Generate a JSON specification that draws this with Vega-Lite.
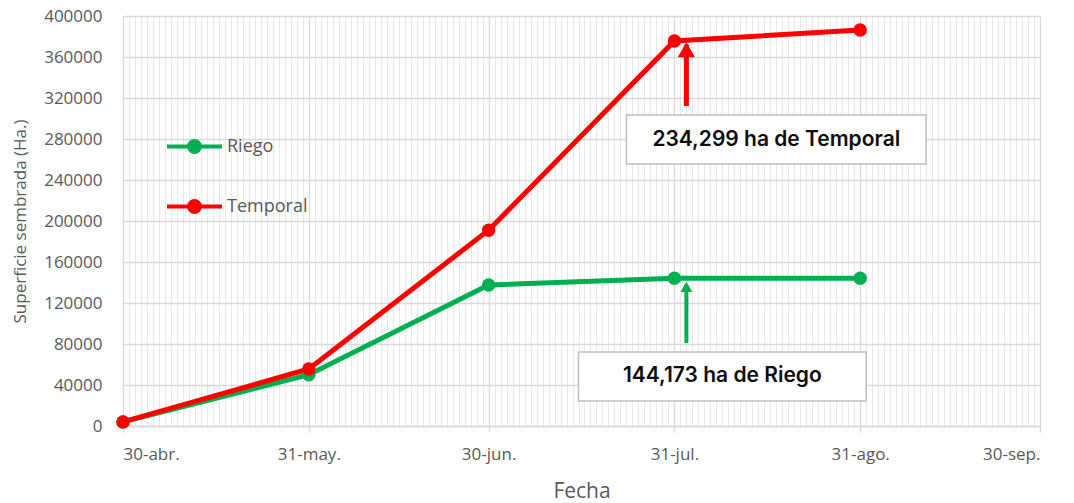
{
  "$schema": "https://vega.github.io/schema/vega-lite/v6.json",
  "autosize": {"type": "none"},
  "width": 917,
  "height": 410,
  "padding": {"left": 123, "top": 16, "right": 34, "bottom": 77},
  "background": "white",
  "config": {
    "view": {"stroke": null},
    "font": "Open Sans"
  },
  "datasets": {
    "series": [
      {"fecha": "2019-04-30", "serie": "Riego", "valor": 4000},
      {"fecha": "2019-05-31", "serie": "Riego", "valor": 50000},
      {"fecha": "2019-06-30", "serie": "Riego", "valor": 137500},
      {"fecha": "2019-07-31", "serie": "Riego", "valor": 144173},
      {"fecha": "2019-08-31", "serie": "Riego", "valor": 144173},
      {"fecha": "2019-04-30", "serie": "Temporal", "valor": 4000},
      {"fecha": "2019-05-31", "serie": "Temporal", "valor": 55600},
      {"fecha": "2019-06-30", "serie": "Temporal", "valor": 191000},
      {"fecha": "2019-07-31", "serie": "Temporal", "valor": 375600},
      {"fecha": "2019-08-31", "serie": "Temporal", "valor": 386300}
    ],
    "notas": [
      {"serie": "Temporal", "texto": "234,299 ha de Temporal", "x1": "2019-07-23", "x2": "2019-09-11", "y1": 303400, "y2": 255600, "tx": "2019-08-17", "ty": 279500, "ax": "2019-08-02", "a0": 312200, "a1": 372000, "ah": 367000},
      {"serie": "Riego", "texto": "144,173 ha de Riego", "x1": "2019-07-15", "x2": "2019-09-01", "y1": 72200, "y2": 24400, "tx": "2019-08-08", "ty": 48300, "ax": "2019-08-02", "a0": 81000, "a1": 138000, "ah": 135800}
    ]
  },
  "layer": [
    {
      "data": {"name": "notas"},
      "mark": {"type": "rect", "fill": "white", "stroke": "#bfbfbf", "strokeWidth": 1.5},
      "encoding": {
        "x": {
          "field": "x1", "type": "temporal",
          "scale": {"type": "utc", "domain": [{"year": 2019, "month": "apr", "date": 30, "utc": true}, {"year": 2019, "month": "sep", "date": 30, "utc": true}]},
          "axis": {"orient": "bottom", "grid": true, "gridColor": "#e8e8e8", "gridWidth": 1, "tickCount": {"interval": "day", "step": 1}, "labels": false, "ticks": false, "domain": false, "title": null}
        },
        "x2": {"field": "x2"},
        "y": {"field": "y1", "type": "quantitative"},
        "y2": {"field": "y2"}
      }
    },
    {
      "data": {"name": "series"},
      "mark": {"type": "line", "strokeWidth": 5, "point": {"size": 180, "filled": true, "opacity": 1}},
      "encoding": {
        "x": {
          "field": "fecha", "type": "temporal",
          "axis": {
            "orient": "bottom",
            "values": [
              {"year": 2019, "month": "apr", "date": 30, "utc": true},
              {"year": 2019, "month": "may", "date": 31, "utc": true},
              {"year": 2019, "month": "jun", "date": 30, "utc": true},
              {"year": 2019, "month": "jul", "date": 31, "utc": true},
              {"year": 2019, "month": "aug", "date": 31, "utc": true},
              {"year": 2019, "month": "sep", "date": 30, "utc": true}
            ],
            "labelExpr": "utcdate(datum.value) + '-' + ['ene.','feb.','mar.','abr.','may.','jun.','jul.','ago.','sep.','oct.','nov.','dic.'][utcmonth(datum.value)]",
            "grid": true, "gridColor": "#d9d9d9", "gridWidth": 1.3,
            "domain": true, "domainColor": "#d9d9d9", "domainWidth": 1.3,
            "ticks": true, "tickColor": "#d9d9d9", "tickSize": 6, "tickWidth": 1.3,
            "labelFont": "Open Sans", "labelFontSize": 17, "labelColor": "#595959", "labelPadding": 14,
            "title": "Fecha", "titleFont": "Open Sans", "titleFontSize": 21, "titleFontWeight": "normal", "titleColor": "#595959", "titlePadding": 18
          }
        },
        "y": {
          "field": "valor", "type": "quantitative",
          "scale": {"domain": [0, 400000], "nice": false},
          "axis": {
            "values": [0, 40000, 80000, 120000, 160000, 200000, 240000, 280000, 320000, 360000, 400000],
            "format": "d",
            "grid": true, "gridColor": "#d9d9d9", "gridWidth": 1.3,
            "domain": false, "ticks": false,
            "labelFont": "Open Sans", "labelFontSize": 17, "labelColor": "#595959", "labelPadding": 21,
            "title": "Superficie sembrada (Ha.)", "titleFont": "Open Sans", "titleFontSize": 17, "titleFontWeight": "normal", "titleColor": "#595959", "titlePadding": 14
          }
        },
        "color": {
          "field": "serie", "type": "nominal",
          "scale": {"domain": ["Riego", "Temporal"], "range": ["#00B050", "#FF0000"]},
          "legend": {
            "orient": "none", "legendX": 42, "legendY": 101, "title": null,
            "symbolType": "M-1,0L1,0M0.2,0A0.2,0.2 0 1,1 -0.2,0A0.2,0.2 0 1,1 0.2,0Z",
            "symbolSize": 3025, "symbolStrokeWidth": 4,
            "labelFont": "Open Sans", "labelFontSize": 18, "labelColor": "#595959", "labelOffset": 3,
            "rowPadding": 17,
            "encode": {"symbols": {"update": {"fill": {"scale": "color", "field": "value"}, "stroke": {"scale": "color", "field": "value"}, "opacity": {"value": 1}}}}
          }
        }
      }
    },
    {
      "data": {"name": "notas"},
      "mark": {"type": "text", "font": "Inter", "fontWeight": 600, "fontSize": 21, "color": "#0d0d0d", "baseline": "middle", "align": "center"},
      "encoding": {
        "x": {"field": "tx", "type": "temporal", "axis": null},
        "y": {"field": "ty", "type": "quantitative"},
        "text": {"field": "texto"}
      }
    },
    {
      "data": {"name": "notas"},
      "transform": [{"filter": "datum.serie == 'Temporal'"}],
      "layer": [
        {"mark": {"type": "rule", "color": "#FF0000", "strokeWidth": 5},
         "encoding": {"x": {"field": "ax", "type": "temporal", "axis": null}, "y": {"field": "a0", "type": "quantitative"}, "y2": {"field": "a1"}}},
        {"mark": {"type": "point", "shape": "triangle-up", "filled": true, "color": "#FF0000", "opacity": 1, "size": 300},
         "encoding": {"x": {"field": "ax", "type": "temporal", "axis": null}, "y": {"field": "ah", "type": "quantitative"}}}
      ]
    },
    {
      "data": {"name": "notas"},
      "transform": [{"filter": "datum.serie == 'Riego'"}],
      "layer": [
        {"mark": {"type": "rule", "color": "#00B050", "strokeWidth": 4},
         "encoding": {"x": {"field": "ax", "type": "temporal", "axis": null}, "y": {"field": "a0", "type": "quantitative"}, "y2": {"field": "a1"}}},
        {"mark": {"type": "point", "shape": "triangle-up", "filled": true, "color": "#00B050", "opacity": 1, "size": 140},
         "encoding": {"x": {"field": "ax", "type": "temporal", "axis": null}, "y": {"field": "ah", "type": "quantitative"}}}
      ]
    }
  ],
  "resolve": {"axis": {"x": "independent"}}
}
